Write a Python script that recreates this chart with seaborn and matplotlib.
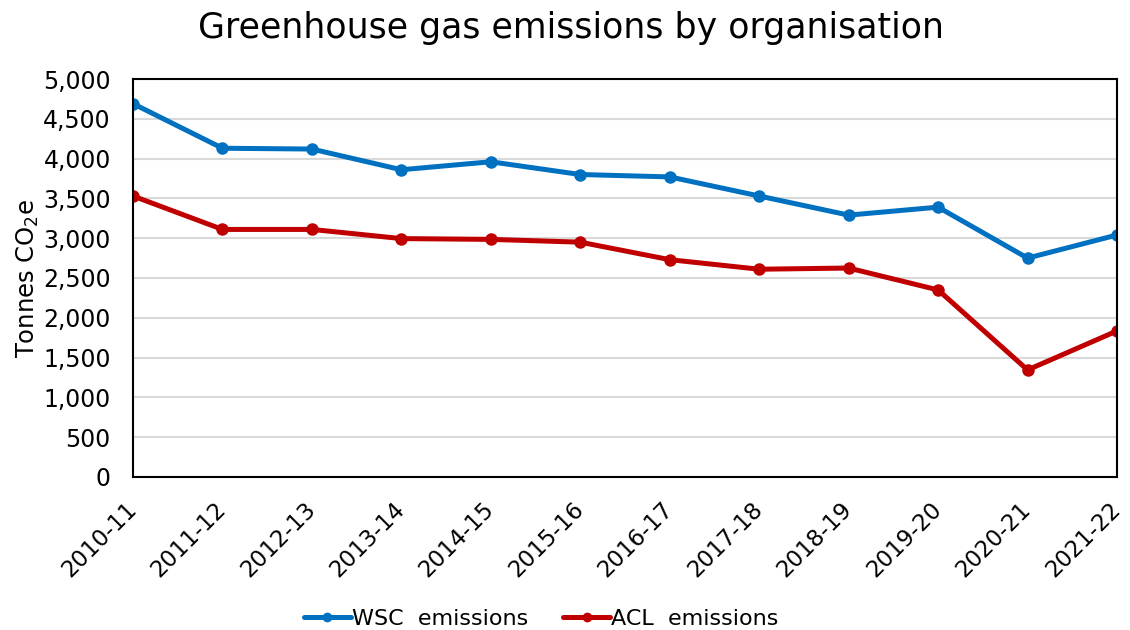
import matplotlib
matplotlib.use("Agg")
import matplotlib.pyplot as plt
import pandas as pd
import seaborn as sns
from matplotlib.ticker import FuncFormatter


# =====================
# DATA
# =====================

years = [
    "2010-11", "2011-12", "2012-13", "2013-14", "2014-15", "2015-16",
    "2016-17", "2017-18", "2018-19", "2019-20", "2020-21", "2021-22"
]

wsc = [4690, 4130, 4120, 3860, 3960, 3800, 3770, 3530, 3290, 3390, 2750, 3040]
acl = [3530, 3110, 3110, 2995, 2985, 2950, 2730, 2610, 2625, 2350, 1345, 1835]

series_names = ["WSC  emissions", "ACL  emissions"]
palette = ["#0070C0", "#C00000"]

df = pd.DataFrame({
    "year": years * 2,
    "value": wsc + acl,
    "series": [series_names[0]] * len(years) + [series_names[1]] * len(years)
})


# =====================
# PLOT
# =====================

sns.set_style("white")
plt.rcParams["font.family"] = ["DejaVu Sans"]
plt.rcParams["text.color"] = "black"
plt.rcParams["xtick.color"] = "black"
plt.rcParams["ytick.color"] = "black"
plt.rcParams["axes.labelcolor"] = "black"

fig = plt.figure(figsize=(11.3, 6.3), dpi=100)
ax = fig.add_axes([0.1177, 0.2429, 0.8708, 0.6317])

sns.lineplot(
    data=df,
    x="year",
    y="value",
    hue="series",
    palette=palette,
    marker="o",
    markersize=9,
    markeredgewidth=0,
    linewidth=3.6,
    sort=False,
    ax=ax,
    legend=False
)

ax.set_xlim(0, len(years) - 1)
ax.set_ylim(0, 5000)
ax.set_yticks(range(0, 5001, 500))
ax.yaxis.set_major_formatter(FuncFormatter(lambda v, p: f"{int(v):,}"))

ax.grid(axis="y", color="#D9D9D9", linewidth=1.5)
ax.set_axisbelow(True)

for s in ax.spines.values():
    s.set_color("black")
    s.set_linewidth(1.5)

ax.tick_params(axis="x", which="major", direction="out", length=6,
               width=1.5, color="black", labelsize=16.5, pad=15)
ax.tick_params(axis="y", length=0, labelsize=17, pad=16)
plt.setp(ax.get_xticklabels(), rotation=45, ha="right", va="center",
         rotation_mode="anchor")

ax.set_xlabel("")
ax.set_ylabel("Tonnes CO$_2$e", fontsize=17.5)
ax.yaxis.set_label_coords(-0.094, 0.5)

fig.suptitle("Greenhouse gas emissions by organisation",
             fontsize=25, x=0.505, y=0.983)

handles = [
    plt.Line2D([], [], color=c, marker="o", markersize=7,
               markeredgewidth=0, linewidth=3.6)
    for c in palette
]
fig.legend(handles, series_names, loc="lower center", ncol=2,
           bbox_to_anchor=(0.479, -0.03), frameon=False, fontsize=16,
           handlelength=2.1, columnspacing=1.6, handletextpad=0.05)

plt.savefig("out.png", dpi=100)
plt.close()
